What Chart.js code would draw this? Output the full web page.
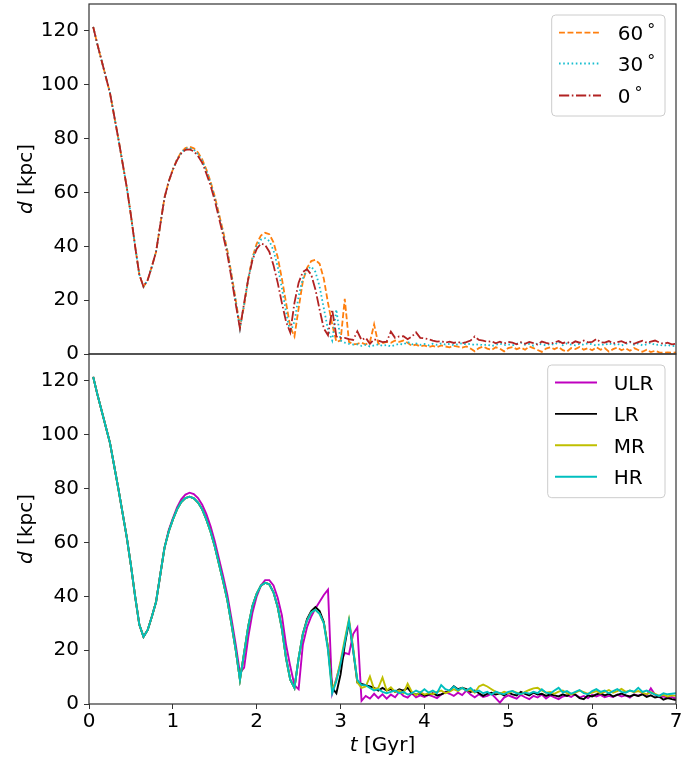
<!DOCTYPE html>
<html>
<head>
<meta charset="utf-8">
<script src="https://cdn.jsdelivr.net/npm/chart.js@4.4.0/dist/chart.umd.min.js"></script>
<style>
  html, body { margin: 0; padding: 0; background: #fff; }
  #wrap { position: relative; width: 689px; height: 758px; }
  #wrap canvas { position: absolute; left: 0; }
  #top { top: 0; }
  #bottom { top: 350px; }
</style>
</head>
<body>
<div id="wrap">
  <canvas id="top" width="689" height="360" style="width:689px;height:360px"></canvas>
  <canvas id="bottom" width="689" height="408" style="width:689px;height:408px"></canvas>
</div>
<script>
// time grid, 0.05 Gyr steps up to 7 Gyr
const t = Array.from({length: 140}, (_, i) => +(0.05 * (i + 1)).toFixed(2));

const xTicks = [0, 1, 2, 3, 4, 5, 6, 7];
const yTicks = [0, 20, 40, 60, 80, 100, 120];

// top panel: orbit distance for three inclinations
const angleLabels = ['60°', '30°', '0°'];
const d60 = [
  121.5, 115, 109, 103, 97, 88.5, 80, 71, 62, 51.5,
  40, 29.5, 25, 27.5, 32.5, 38, 48, 58, 64, 68.5,
  72.3, 75, 76.5, 77, 76.4, 74.8, 72.3, 68.5, 64, 58.5,
  52, 45.5, 38.5, 29.5, 20, 10, 18, 28, 36, 41,
  44, 45, 44.5, 41.5, 36, 28, 19, 10, 6.5, 17,
  27, 32, 34.5, 35, 33.5, 28, 19, 11, 4.5, 5,
  20.5, 4.5, 3.6, 3.8, 4.2, 3.5, 4.5, 11, 3.8, 4,
  4.5, 4.2, 5, 4.5, 5, 4.2, 3, 3.5, 2.8, 3.2,
  2.6, 3, 2.5, 3.2, 2.8, 2.5, 3, 2.7, 2.4, 2.8,
  2, 1, 2.2, 2.8, 2, 1.5, 2.5, 2, 1, 2.2,
  2.6, 1.8, 2.4, 1.6, 2.8, 2.2, 1.5, 0.8, 2, 2.5,
  1.8, 2.6, 1.4, 0.9, 2.2, 1.8, 2.6, 1.6, 2.2, 1.4,
  2.5, 1.6, 2.2, 0.9, 1.8, 2.4, 1.4, 2.1, 1.2, 2.2,
  1.5, 0.8, 1.6, 0.7, 1.2, 0.6, 0.5, 0.6, 0.5, 0.6
];
const d30 = [
  121.5, 115, 109, 103, 97, 88.5, 80, 71, 62, 51.5,
  40, 29.5, 25, 27.5, 32.5, 38, 48, 58, 64, 68.5,
  72.2, 74.8, 76.2, 76.5, 75.9, 74.2, 71.7, 68, 63.5, 58,
  51.5, 45, 38, 29, 19.5, 9.5, 18.5, 28, 35.5, 40,
  42.5, 43, 42, 38.5, 32.5, 24.5, 15.5, 8, 12, 21.5,
  28, 31.5, 32.5, 30.5, 25, 17, 9, 5, 16.5, 5,
  4.2, 3.8, 3.5, 3.6, 3, 3.4, 2.8, 3.2, 3.6, 3,
  3.4, 2.8, 3.3, 3.8, 3.5, 4.5, 3.6, 3.9, 3.4, 3.7,
  3.2, 3.8, 3.4, 3.9, 3.5, 3.8, 3.3, 3.6, 4, 3.5,
  3.8, 3.3, 3.7, 3.2, 3.6, 2.9, 3.4, 3.9, 3.3, 3.6,
  3.2, 3.8, 4.2, 3.4, 3.7, 3.1, 4, 3.5, 3.2, 3.8,
  3.4, 4.6, 3.3, 3.9, 3.5, 3.2, 3.8, 3.4, 4, 3.6,
  3.1, 3.7, 3.3, 4, 3.4, 3.8, 3.2, 3.7, 4.4, 3.4,
  3.9, 3.2, 3.6, 4.2, 3.3, 3.5, 3, 3.4, 2.9, 3.1
];
const d0 = [
  121.5, 115, 109, 103, 97, 88.5, 80, 71, 62, 51.5,
  40, 29.5, 25, 27.5, 32.5, 38, 48, 58, 64, 68.5,
  72, 74.5, 75.8, 76, 75.3, 73.5, 71, 67, 62.5, 57,
  50.5, 44, 37, 28, 18.5, 9.5, 19, 28, 35, 39,
  41, 40.5, 38, 33, 26.5, 19, 12, 8, 19, 26.5,
  30.5, 31.5, 29.5, 24, 16.5, 9.5, 7, 16.5, 6.5, 6,
  6, 5.5, 5.2, 8.4, 5.2, 6, 3.8, 5.5, 5, 4.4,
  4.6, 8.3, 6, 6.5, 6.6, 5.5, 6.5, 8, 6, 5.8,
  5.5, 5, 4.6, 4.8, 4.2, 4.6, 4.1, 4.5, 4, 4.4,
  5, 6.5, 5.2, 5, 4.5, 4.8, 4, 4.6, 3.9, 4.5,
  4.2, 3.6, 4.4, 3.8, 4.5, 4, 3.5, 4.6, 4.1, 3.8,
  4.3, 4.8, 4, 4.5, 3.8, 4.7, 4.2, 5, 4.3, 4.5,
  5.6, 4.4, 4.2, 4.8, 3.9, 4.4, 4.8, 4.1, 4.6, 3.8,
  4.4, 4.9, 4.2, 4.6, 5, 4.3, 3.8, 4.2, 3.6, 3.8
];

// bottom panel: same orbit at four resolutions
const resLabels = ['ULR', 'LR', 'MR', 'HR'];
const dULR = [
  121.5, 115, 109, 103, 97, 88.5, 80, 71, 62, 51.5,
  40, 29.5, 25, 27.5, 32.5, 38, 48, 58, 64.5, 69,
  73, 76, 77.8, 78.5, 78, 76.5, 74, 70.5, 66, 60.5,
  54, 47.5, 40.5, 31.5, 22, 11.5, 13.5, 25, 34, 40,
  44, 46, 46, 44, 39.5, 33, 22, 14, 7, 5.5,
  22, 28.5, 32.5, 35.5, 38, 40.5, 42.5, 4, 9.5, 15,
  19, 18.5, 26, 28.5, 1.2, 3, 2, 3.8, 2.2, 3.6,
  2, 3.5, 2.5, 4.5, 3, 2.4, 4, 2.5, 3.2, 2.6,
  3.4, 2.8, 2.2, 3.5, 4.5, 3.8, 3, 4.2, 3.3, 5,
  3.5, 2.5, 3.6, 2.6, 3, 3.8, 2.2, 0.5, 2.4, 3.2,
  2.6, 2, 3.4, 2.5, 1.8, 3, 2.4, 3.5, 2, 3.2,
  2.5, 1.8, 2.8, 3.2, 2.6, 3.6, 2.4, 3, 2.2, 3.4,
  2.8, 3.4, 2.5, 3, 2.6, 3.5, 2.8, 3.2, 2.4, 3.6,
  3, 3.8, 3.2, 5.8, 3.4, 2.5, 2.8, 2.2, 2.6, 2
];
const dLR = [
  121.5, 115, 109, 103, 97, 88.5, 80, 71, 62, 51.5,
  40, 29.5, 25, 27.5, 32.5, 38, 48, 58, 64, 68.5,
  72.3, 75, 76.5, 77, 76.4, 74.8, 72.3, 68.5, 64, 58.5,
  52, 45.5, 38.5, 29.5, 20, 9, 19, 29, 36.5, 41,
  44, 45, 44.5, 41.5, 36, 28, 17, 9, 6, 17,
  26, 31.5, 34.5, 36, 34.5, 30.5, 21, 6, 4, 11,
  22, 30.5, 20, 8, 7.5, 7, 6.5, 6, 5, 6,
  5, 5.5, 4.5, 5.5, 5, 6, 4, 3.5, 4, 3.2,
  3.5, 4, 3.2, 3.6, 4.2, 5, 6.6, 5.5, 6, 5.5,
  4.5, 5, 4, 3, 3.8, 4.2, 3.5, 4, 3.2, 4.2,
  3.6, 3.2, 4.5, 3.8, 3.2, 4.2, 3.5, 3.8, 3, 3.6,
  3.2, 2.8, 3.6, 3, 3.8, 3.4, 2.2, 1.8, 3.2, 2.8,
  3.6, 4, 3.2, 3.8, 2.8, 3.4, 3.9, 3.2, 2.8, 3.4,
  3, 3.6, 2.6, 3.2, 2.4, 2.8, 1.6, 2.2, 1.8, 1.5
];
const dMR = [
  121.5, 115, 109, 103, 97, 88.5, 80, 71, 62, 51.5,
  40, 29.5, 25, 27.5, 32.5, 38, 48, 58, 64, 68.5,
  72.3, 75, 76.5, 77, 76.4, 74.8, 72.3, 68.5, 64, 58.5,
  52, 45.5, 38.5, 29.5, 20, 9, 19, 29, 36.5, 41,
  44, 45, 44.5, 41.5, 36, 28, 17, 9, 6, 17,
  26, 31, 34, 35, 33.5, 30, 21, 5, 9, 16,
  24, 31.5, 21, 8, 6, 6.5, 10.2, 5.5, 6, 9.8,
  5, 6.2, 4.5, 5, 4, 7.5, 4.5, 3.2, 4.5, 3.5,
  4, 3.6, 4.5, 5, 4, 4.6, 5.5, 4.8, 6, 5,
  5.2, 4.2, 6.5, 7.2, 6.5, 5.5, 4.5, 3.8, 4.5, 4,
  4.8, 4.2, 3.6, 4.5, 5.2, 5.8, 6, 5, 4.2, 4.5,
  3.8, 4.6, 5, 4, 3.5, 4.2, 5, 4.4, 3.8, 4.2,
  4.8, 4, 4.5, 5.2, 4.2, 4.8, 5.6, 4.5, 5, 4.4,
  4.8, 4.2, 3.6, 4.4, 3.8, 3, 3.4, 2.8, 3.2, 3
];
const dHR = [
  121.5, 115, 109, 103, 97, 88.5, 80, 71, 62, 51.5,
  40, 29.5, 25, 27.5, 32.5, 38, 48, 58, 64, 68.5,
  72.3, 75, 76.5, 77, 76.4, 74.8, 72.3, 68.5, 64, 58.5,
  52, 45.5, 38.5, 29.5, 20, 9, 19, 29, 36.5, 41,
  44, 45, 44.5, 41.5, 36, 28, 17, 9, 6, 17,
  26, 31, 34, 35, 33.5, 30, 20, 4, 8.5, 15,
  23, 31, 20, 9, 7, 7, 6, 5, 5.5, 4.5,
  4, 4.5, 5, 4, 4.5, 3.5, 4, 5, 4.2, 5.5,
  4.2, 5, 4, 7, 5.5, 5, 6.5, 5.2, 6, 5,
  6, 4.5, 5, 4, 4.5, 3.5, 4.6, 4, 3.6, 4.5,
  4.8, 4, 3.7, 4.3, 3.8, 4.5, 4, 5.5, 4.2, 3.9,
  5, 6, 4.3, 4.8, 3.8, 4.5, 5.2, 4, 3.6, 4.8,
  5.5, 4.5, 5, 4, 4.8, 5.5, 4.5, 4.2, 5, 4.6,
  6, 4.5, 5, 4.2, 3.5, 3, 4, 3.6, 3.8, 4
];

const FONT = "'DejaVu Sans', 'Liberation Sans', sans-serif";
const pts = ys => t.map((x, i) => ({x: x, y: ys[i]}));

// axes frame, axis titles with italic symbol, and an inset legend
const panelDecor = {
  id: 'panelDecor',
  afterDatasetsDraw(chart, args, opts) {
    const ctx = chart.ctx;
    const a = chart.chartArea;
    ctx.save();
    ctx.strokeStyle = '#333';
    ctx.lineWidth = 1.2;
    ctx.strokeRect(a.left, a.top, a.right - a.left, a.bottom - a.top);

    ctx.fillStyle = '#000';
    drawTitle(ctx, opts.yTitle, 32, (a.top + a.bottom) / 2, -Math.PI / 2);
    if (opts.xTitle) drawTitle(ctx, opts.xTitle, (a.left + a.right) / 2, opts.xTitleY, 0);

    // legend box
    const lg = opts.legend;
    const bx = a.right - 11 - lg.w, by = a.top + 11;
    ctx.beginPath();
    ctx.roundRect(bx, by, lg.w, lg.h, 4);
    ctx.fillStyle = 'rgba(255,255,255,0.8)';
    ctx.fill();
    ctx.strokeStyle = '#cccccc';
    ctx.lineWidth = 1;
    ctx.stroke();

    chart.data.datasets.forEach((ds, i) => {
      const y = by + lg.rows[i];
      ctx.strokeStyle = ds.borderColor;
      ctx.lineWidth = ds.borderWidth;
      ctx.setLineDash(ds.borderDash || []);
      ctx.beginPath();
      ctx.moveTo(bx + 7.3, y);
      ctx.lineTo(bx + 7.3 + 42, y);
      ctx.stroke();
      ctx.setLineDash([]);

      ctx.fillStyle = '#000';
      ctx.textBaseline = 'alphabetic';
      ctx.textAlign = 'left';
      ctx.font = '20px ' + FONT;
      let label = ds.label;
      const deg = label.endsWith('°');
      if (deg) label = label.slice(0, -1);
      ctx.fillText(label, bx + 66, y + 7.3);
      if (deg) {
        const w = ctx.measureText(label).width;
        ctx.font = '16px ' + FONT;
        ctx.fillText('°', bx + 66 + w + 4, y + 7.3 - 5);
      }
    });
    ctx.restore();
  }
};

function drawTitle(ctx, parts, cx, cy, rot) {
  ctx.save();
  ctx.translate(cx, cy);
  ctx.rotate(rot);
  ctx.textBaseline = 'alphabetic';
  ctx.textAlign = 'left';
  let total = 0;
  parts.forEach(p => {
    ctx.font = (p.italic ? 'italic ' : '') + '20px ' + FONT;
    p.w = ctx.measureText(p.text).width;
    total += p.w;
  });
  let x = -total / 2;
  parts.forEach(p => {
    ctx.font = (p.italic ? 'italic ' : '') + '20px ' + FONT;
    ctx.fillText(p.text, x, 0);
    x += p.w;
  });
  ctx.restore();
}

function yScale() {
  return {
    min: 0, max: 130,
    afterBuildTicks: s => { s.ticks = yTicks.map(v => ({value: v})); },
    afterFit: s => {
      s.width = 89;
      // labels may hang past the plot edges; don't reserve room for them
      s.paddingTop = 0;
      s.paddingBottom = 0;
    },
    ticks: {color: '#000', font: {family: FONT, size: 20}, padding: 5},
    grid: {drawOnChartArea: false, drawTicks: true, tickLength: 5, color: '#333', tickColor: '#333'},
    border: {display: false}
  };
}

function xScale(show) {
  return {
    type: 'linear', min: 0, max: 7,
    display: show,
    afterBuildTicks: s => { s.ticks = xTicks.map(v => ({value: v})); },
    afterFit: s => { s.height = show ? 54 : 0; },
    ticks: {color: '#000', font: {family: FONT, size: 20}, padding: 1, maxRotation: 0},
    grid: {drawOnChartArea: false, drawTicks: true, tickLength: 5, color: '#333', tickColor: '#333'},
    border: {display: false}
  };
}

function line(label, ys, color, dash, order) {
  return {
    label: label, data: pts(ys), borderColor: color,
    borderWidth: dash.length ? 1.8 : 1.9,
    borderDash: dash, pointRadius: 0, tension: 0, fill: false, order: order
  };
}

const baseOpts = {
  responsive: false,
  animation: false,
  events: [],
  plugins: {legend: {display: false}, tooltip: {enabled: false}}
};

new Chart(document.getElementById('top'), {
  type: 'line',
  data: {
    datasets: [
      line(angleLabels[0], d60, '#ff7f0e', [5.9, 2.6], 3),
      line(angleLabels[1], d30, '#17becf', [1.6, 2.6], 2),
      line(angleLabels[2], d0, '#b22222', [10.2, 2.6, 1.6, 2.6], 1)
    ]
  },
  options: Object.assign({}, baseOpts, {
    layout: {padding: {top: 4, right: 13, bottom: 6, left: 0}},
    scales: {x: xScale(false), y: yScale()},
    plugins: Object.assign({}, baseOpts.plugins, {
      panelDecor: {
        yTitle: [{text: 'd', italic: true}, {text: ' [kpc]'}],
        legend: {w: 113.3, h: 101, rows: [17.7, 48.5, 80.5]}
      }
    })
  }),
  plugins: [panelDecor]
});

new Chart(document.getElementById('bottom'), {
  type: 'line',
  data: {
    datasets: [
      line(resLabels[0], dULR, '#bf00bf', [], 4),
      line(resLabels[1], dLR, '#000000', [], 3),
      line(resLabels[2], dMR, '#bfbf00', [], 2),
      line(resLabels[3], dHR, '#00bfbf', [], 1)
    ]
  },
  options: Object.assign({}, baseOpts, {
    layout: {padding: {top: 4, right: 13, bottom: 0, left: 0}},
    scales: {x: xScale(true), y: yScale()},
    plugins: Object.assign({}, baseOpts.plugins, {
      panelDecor: {
        yTitle: [{text: 'd', italic: true}, {text: ' [kpc]'}],
        xTitle: [{text: 't', italic: true}, {text: ' [Gyr]'}],
        xTitleY: 401,
        legend: {w: 117.3, h: 132.7, rows: [17.5, 48.9, 80.3, 111.7]}
      }
    })
  }),
  plugins: [panelDecor]
});
</script>
</body>
</html>
